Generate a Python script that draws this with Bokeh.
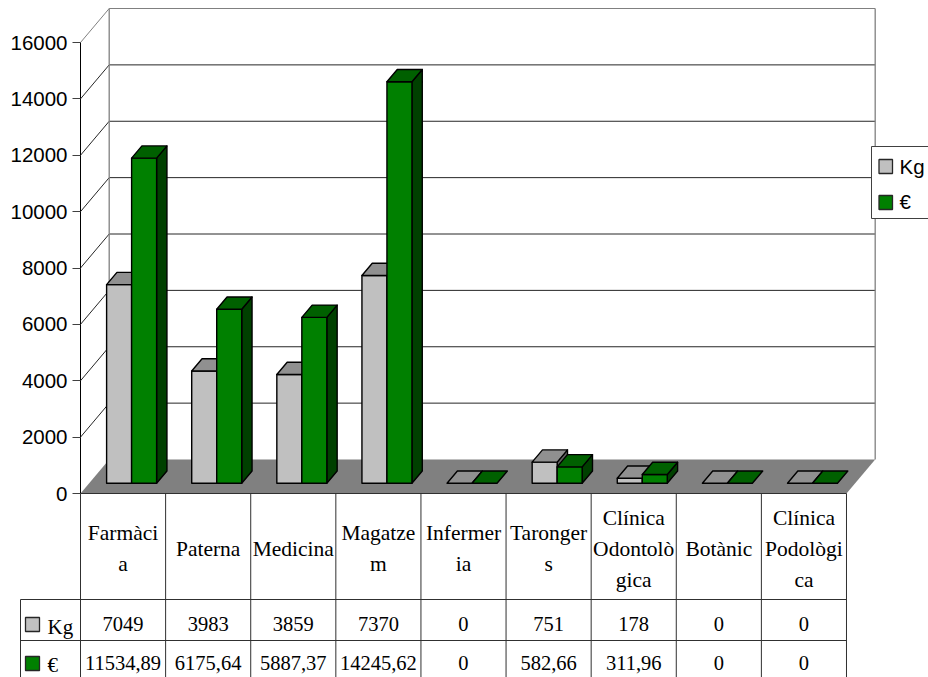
from bokeh.plotting import figure
from bokeh.models import LinearAxis, FixedTicker, Range1d
from bokeh.core.properties import value
from bokeh.embed import file_html
from bokeh.resources import INLINE

categories = [["Farmàci", "a"], ["Paterna"], ["Medicina"], ["Magatze", "m"], ["Infermer", "ia"],
              ["Taronger", "s"], ["Clínica", "Odontolò", "gica"], ["Botànic"], ["Clínica", "Podològi", "ca"]]
kg = [7049, 3983, 3859, 7370, 0, 751, 178, 0, 0]
eur = [11534.89, 6175.64, 5887.37, 14245.62, 0, 582.66, 311.96, 0, 0]
kg_labels = ["7049", "3983", "3859", "7370", "0", "751", "178", "0", "0"]
eur_labels = ["11534,89", "6175,64", "5887,37", "14245,62", "0", "582,66", "311,96", "0", "0"]
y_ticks = [0, 2000, 4000, 6000, 8000, 10000, 12000, 14000, 16000]

W, H = 928, 677
SX = 85.11      # px per category
SY = 451 / 16000  # px per value unit
X0, Y0 = 80, 493  # pixel position of the origin


def X(px):
    return (px - X0) / SX


def Y(py):
    return (Y0 - py) / SY


DX = 28.7 / SX   # full depth, in category units
DY = 34 / SY     # full depth, in value units


def P(x, v, d):
    return x + d * DX, v + d * DY


p = figure(width=W, height=H, output_backend="svg", toolbar_location=None,
           x_axis_location=None, y_axis_location=None, min_border=0,
           outline_line_color=None,
           x_range=Range1d(X(0), X(W)), y_range=Range1d(Y(H), Y(0)))
p.grid.visible = False

n = len(kg)
GREY = "#808080"
DARK = "#262626"

# floor
fx, fy = zip(P(0, 0, 0), P(0, 0, 1), P(n, 0, 1), P(n, 0, 0))
p.patch(list(fx), list(fy), fill_color=GREY, line_color=None)

# walls and gridlines
for t in y_ticks:
    (ax, ay), (bx, by), (cx, cy) = P(0, t, 0), P(0, t, 1), P(n, t, 1)
    col = GREY if t == y_ticks[-1] else DARK
    if t > 0:
        p.line([ax, bx, cx], [ay, by, cy], line_color=col, line_width=1)
(bx, by), (tx, ty) = P(0, 0, 1), P(0, y_ticks[-1], 1)
p.line([bx, tx], [by, ty], line_color=GREY, line_width=1.3)
(bx, by), (tx, ty) = P(n, 0, 1), P(n, y_ticks[-1], 1)
p.line([bx, tx], [by, ty], line_color=GREY, line_width=1.3)

# bars
BAR_W = 25 / SX
LEFT = 17.5 / SX
D_FRONT, D_BACK = 0.30, 0.66


def draw_bar(x, v, front, top, side):
    x2 = x + BAR_W
    fr = [P(x, 0, D_FRONT), P(x2, 0, D_FRONT), P(x2, v, D_FRONT), P(x, v, D_FRONT)]
    tp = [P(x, v, D_FRONT), P(x2, v, D_FRONT), P(x2, v, D_BACK), P(x, v, D_BACK)]
    sd = [P(x2, 0, D_FRONT), P(x2, 0, D_BACK), P(x2, v, D_BACK), P(x2, v, D_FRONT)]
    for poly, col in ((sd, side), (fr, front), (tp, top)):
        if v == 0 and poly is not tp:
            continue
        p.patch([a for a, _ in poly], [b for _, b in poly], fill_color=col,
                line_color="#000000", line_width=1.4, line_join="round")


for i in range(n):
    draw_bar(i + LEFT, kg[i], "#C0C0C0", "#909090", "#606060")
    draw_bar(i + LEFT + BAR_W, eur[i], "#008000", "#006000", "#004000")

# y axis
axis = LinearAxis(fixed_location=0, bounds=(0, 16000), ticker=FixedTicker(ticks=y_ticks))
axis.major_tick_out = 8
axis.major_tick_in = 0
axis.minor_tick_out = 0
axis.minor_tick_in = 0
axis.major_label_standoff = 5
axis.major_label_text_font = "Liberation Sans"
axis.major_label_text_font_size = "20.5px"
axis.major_label_text_color = "#000000"
axis.axis_line_color = "#000000"
axis.major_tick_line_color = "#404040"
p.add_layout(axis, "left")

# data table
R1, R2, R3 = Y(599), Y(640), Y(H)
TBL = "#303030"
p.segment(x0=[0] * 2, y0=[R1, R2], x1=[n] * 2, y1=[R1, R2], line_color=TBL)
p.segment(x0=[X(20)] * 2, y0=[R1, R2], x1=[0] * 2, y1=[R1, R2], line_color=TBL)
p.segment(x0=[0], y0=[0], x1=[n], y1=[0], line_color=TBL)
p.segment(x0=[X(20)], y0=[R1], x1=[X(20)], y1=[R3], line_color=TBL)
p.segment(x0=list(range(n + 1)), y0=[0] * (n + 1), x1=list(range(n + 1)), y1=[R3] * (n + 1), line_color=TBL)

LH = 31
tx, ty, tt = [], [], []
for i, lines in enumerate(categories):
    for j, s in enumerate(lines):
        tx.append(i + 0.5)
        ty.append(Y(548 + (j - (len(lines) - 1) / 2) * LH))
        tt.append(s)
serif = dict(text_font=value("Liberation Serif"), text_color="#000000", text_baseline="middle")
p.text(x=tx, y=ty, text=tt, text_align="center", text_font_size="21.5px", **serif)
centres = [i + 0.5 for i in range(n)]
p.text(x=centres, y=[Y(623)] * n, text=kg_labels, text_align="center", text_font_size="20.5px", **serif)
p.text(x=centres, y=[Y(662)] * n, text=eur_labels, text_align="center", text_font_size="20.5px", **serif)
p.text(x=[X(47)] * 2, y=[Y(626), Y(664)], text=["Kg", "€"], text_align="left", text_font_size="21px", **serif)
p.quad(left=[X(25)], right=[X(39)], top=[Y(617)], bottom=[Y(631)], fill_color="#C0C0C0", line_color=DARK, line_width=1.3)
p.quad(left=[X(25)], right=[X(39)], top=[Y(656)], bottom=[Y(670)], fill_color="#008000", line_color=DARK, line_width=1.3)

# legend
p.quad(left=[X(871)], right=[X(940)], top=[Y(146)], bottom=[Y(218)], fill_color="#FFFFFF", line_color="#404040", line_width=1)
p.quad(left=[X(878.5)], right=[X(892)], top=[Y(159)], bottom=[Y(173)], fill_color="#C0C0C0", line_color=DARK, line_width=1.3)
p.quad(left=[X(878.5)], right=[X(892)], top=[Y(195)], bottom=[Y(209)], fill_color="#008000", line_color=DARK, line_width=1.3)
p.text(x=[X(899)] * 2, y=[Y(166), Y(201)], text=["Kg", "€"], text_align="left", text_baseline="middle",
       text_font=value("Liberation Sans"), text_font_size="20.5px", text_color="#000000")

open("out.html", "w").write(file_html(p, INLINE))
